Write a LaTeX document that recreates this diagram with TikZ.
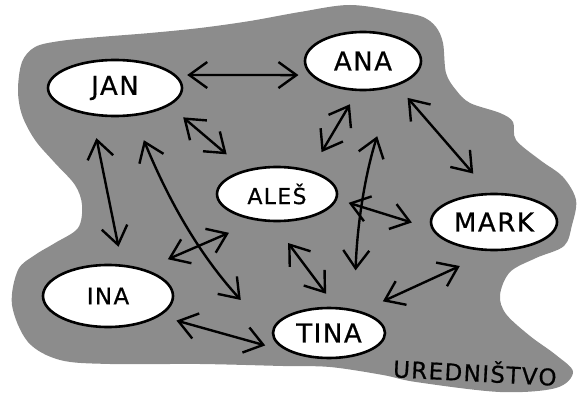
\documentclass[tikz,border=0pt]{standalone}
\usepackage{fontspec}
\usepackage{tikz}
\usetikzlibrary{shapes, arrows.meta, calc, positioning}
\newfontfamily\handfont[LetterSpace=6, FakeBold=0.6]{DejaVu Sans}
\definecolor{blobgray}{gray}{0.55}

\begin{document}
\begin{tikzpicture}[>={Straight Barb[length=9pt,width=13pt]}, x=0.5pt, y=-0.5pt]
    \tikzstyle{format} = [draw, line width=1.3pt, ellipse, fill=white,
	inner sep=0pt, font=\handfont\fontsize{13}{15}\selectfont]

	\useasboundingbox (0,0) rectangle (583,395);
	% the office
	\fill[blobgray] plot[smooth cycle, tension=0.55] coordinates {
		(22,62) (35,47) (60,41) (100,37) (150,33) (200,28) (250,21) (300,12)
		(350,5) (400,12) (423,17) (436,27) (443,43) (446,73) (456,90)
		(470,103) (500,113) (513,122) (516,140) (540,160) (563,177)
		(576,200) (572,225) (564,246) (536,258) (510,272) (500,295)
		(506,314) (530,336) (556,355) (573,372) (556,388) (500,392)
		(416,382) (383,375) (330,367) (283,366) (200,364) (110,364)
		(60,360) (28,342) (12,305) (18,270) (35,255) (55,243) (78,228)
		(82,205) (75,185) (55,163) (35,140) (22,115) (18,90)};

	\begin{scope}
		\path[<->, line width=1.2pt]
			node[format, minimum width=67pt, minimum height=28pt] at (115,88) (JAN) {JAN}
			node[format, minimum width=58pt, minimum height=29pt] at (363,61) (ANA) {ANA}
			node[format, minimum width=60pt, minimum height=27pt,
				font=\handfont\fontsize{11}{13}\selectfont] at (277,194) (ALES) {ALEŠ}
			node[format, minimum width=63pt, minimum height=28pt] at (494,222) (MARK) {MARK}
			node[format, minimum width=65pt, minimum height=31pt,
				font=\handfont\fontsize{11.5}{13}\selectfont] at (108,296) (INA) {INA}
			node[format, minimum width=56pt, minimum height=25pt] at (329,333) (TINA) {TINA}

			node[font=\handfont\fontsize{11.5}{13}\selectfont, rotate=-3] at (475,371) (UR) {UREDNIŠTVO}

			(JAN.12) edge[shorten <=5.5pt, shorten >=6pt] (ANA.195)
			(JAN.-18) edge[shorten <=9pt, shorten >=12pt] (ALES.143)
			(JAN.230) edge[shorten <=11.5pt, shorten >=9pt] (INA.66)
			(JAN.-56) edge[bend right=10, shorten <=13pt, shorten >=23pt] (TINA.181)

			(ANA.260) edge[shorten <=7.6pt, shorten >=10.6pt] (ALES.35)
			(ANA.-36.5) edge[shorten <=8pt, shorten >=12.7pt] (MARK.98)
			(ANA.-41) edge[bend right=8, shorten <=25.8pt, shorten >=19.5pt] (TINA.43)

			(ALES.-5.6) edge[shorten <=6pt, shorten >=10.2pt] (MARK.186)
			(ALES.233) edge[shorten <=15.2pt, shorten >=12.5pt] (INA.36)
			(ALES.261) edge[shorten <=13pt, shorten >=8.2pt] (TINA.75)

			(MARK.266) edge[shorten <=17.7pt, shorten >=11.9pt] (TINA.34.5)
			(INA.-21) edge[shorten <=8.5pt, shorten >=13.2pt] (TINA.207)
		;
	\end{scope}
\end{tikzpicture}
\end{document}
